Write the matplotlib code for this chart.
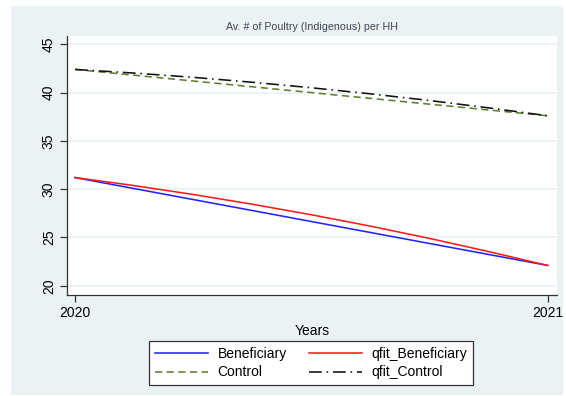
import matplotlib
matplotlib.use("Agg")
import matplotlib.pyplot as plt
from matplotlib.patches import Rectangle

# Survey rounds and average indigenous poultry per household
years = [2020, 2021]
beneficiary = [31.2, 22.1]
control = [42.4, 37.6]

# Quadratic fit curves, sampled along the year axis
fit_years = [2020, 2020.125, 2020.25, 2020.375, 2020.5, 2020.625, 2020.75, 2020.875, 2021]
qfit_beneficiary = [31.2, 30.37, 29.45, 28.44, 27.35, 26.17, 24.90, 23.54, 22.1]
qfit_control = [42.4, 42.02, 41.58, 41.07, 40.5, 39.87, 39.18, 38.42, 37.6]

yticks = [20, 25, 30, 35, 40, 45]
xticks = [2020, 2021]

plt.rcParams["font.family"] = ["Liberation Sans", "DejaVu Sans"]

W, H = 566, 396
fig = plt.figure(figsize=(W / 100, H / 100), dpi=100)
fig.patch.set_facecolor("white")

# graph region backdrop
bg = "#EAF2F3"
fig.patches.append(Rectangle((11 / W, 1 - 395 / H), (563 - 11) / W, (395 - 6) / H,
                             transform=fig.transFigure, facecolor=bg,
                             edgecolor="none", zorder=-5))

left, right, top, bottom = 67, 557, 36, 295
ax = fig.add_axes([left / W, 1 - bottom / H, (right - left) / W, (bottom - top) / H])
ax.set_zorder(1)
ax.set_facecolor("white")

ax.plot(years, beneficiary, color="#2323ff", lw=1.15, label="Beneficiary")
ax.plot(fit_years, qfit_beneficiary, color="#ff1a1a", lw=1.15, label="qfit_Beneficiary")
ax.plot(years, control, color="#5c7f2e", lw=1.15, dashes=(4.5, 2.8), label="Control")
ax.plot(fit_years, qfit_control, color="#111111", lw=1.15, dashes=(8, 3, 1, 3),
        label="qfit_Control")

ax.set_xlim(2019.983, 2021.0197)
ax.set_ylim(19.04, 45.86)
ax.set_xticks(xticks)
ax.set_xticklabels([str(x) for x in xticks])
ax.set_yticks(yticks)
ax.set_yticklabels([str(y) for y in yticks], rotation=90, va="center")

ax.grid(axis="y", color=bg, lw=1.2)
ax.set_axisbelow(True)
for side in ("top", "right"):
    ax.spines[side].set_visible(False)
for side in ("left", "bottom"):
    ax.spines[side].set_color("#333333")
    ax.spines[side].set_linewidth(0.9)
ax.tick_params(axis="both", direction="out", length=5, width=0.9, color="#333333",
               labelsize=10, labelcolor="black", pad=3)

ax.set_xlabel("Years", fontsize=10, labelpad=3)
ax.set_title("Av. # of Poultry (Indigenous) per HH", fontsize=7.7, color="#3d4756", pad=4)

handles, labels = ax.get_legend_handles_labels()
order = [0, 2, 1, 3]
leg = fig.legend([handles[i] for i in order], [labels[i] for i in order],
                 ncol=2, loc="center", bbox_to_anchor=(311 / W, 1 - 363 / H),
                 fontsize=10, handlelength=3.8, handletextpad=0.7,
                 columnspacing=1.6, labelspacing=0.35, borderpad=0.4,
                 frameon=True, fancybox=False, framealpha=1)
leg.set_zorder(2)
leg.get_frame().set_edgecolor("#333333")
leg.get_frame().set_linewidth(0.9)
leg.get_frame().set_facecolor("white")

fig.savefig("out.png", dpi=100, facecolor=fig.get_facecolor())
